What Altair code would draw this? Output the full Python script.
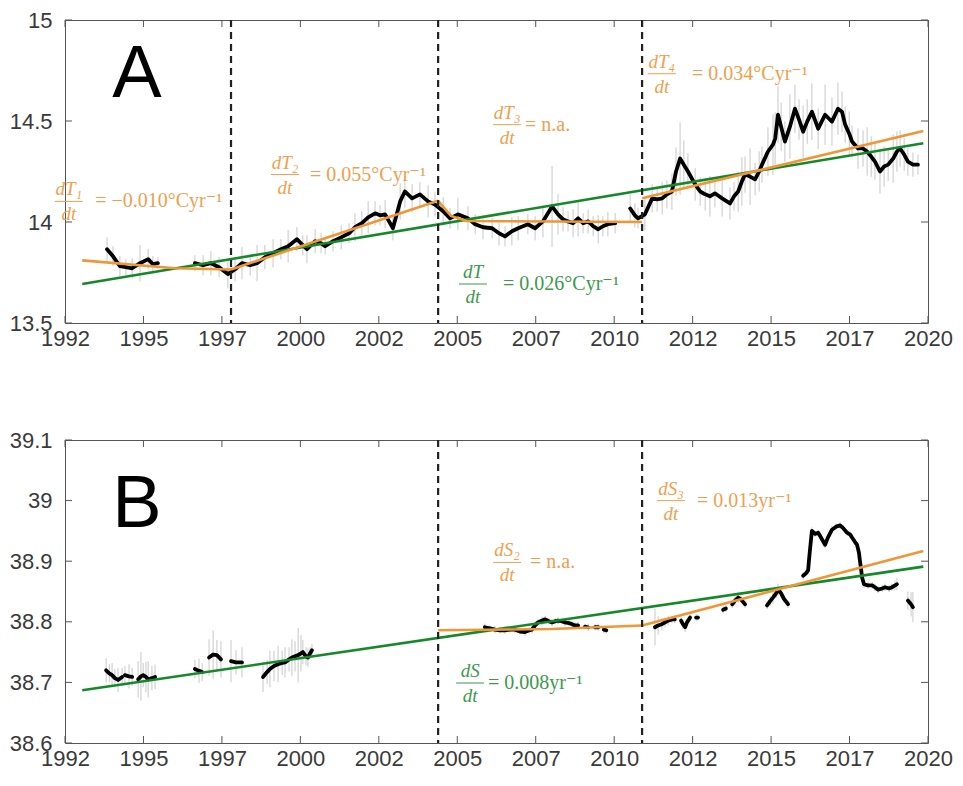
import altair as alt
import pandas as pd

# ---------------- axes ----------------
X_DOMAIN = [1992.5, 2020.0]
X_TICKS = [1992.5, 1995.0, 1997.5, 2000.0, 2002.5, 2005.0, 2007.5, 2010.0, 2012.5, 2015.0, 2017.5, 2020.0]
T_DOMAIN = [13.5, 15.0]
T_TICKS = [13.5, 14.0, 14.5, 15.0]
S_DOMAIN = [38.6, 39.1]
S_TICKS = [38.6, 38.7, 38.8, 38.9, 39.0, 39.1]
BREAKS_T = [1997.79, 2004.39, 2010.89]
BREAKS_S = [2004.39, 2010.89]

# ---------------- temperature (year, value, error half-width) ----------------
temp_seg1 = [
    (1993.84, 13.865, 0.06), (1994.03, 13.830, 0.05), (1994.25, 13.781, 0.05), (1994.44, 13.776, 0.04),
    (1994.64, 13.771, 0.05), (1994.89, 13.796, 0.09), (1995.15, 13.816, 0.05), (1995.30, 13.791, 0.04),
    (1995.46, 13.796, 0.03),
]
temp_seg2 = [
    (1996.64, 13.796, 0.04), (1996.90, 13.786, 0.05), (1997.15, 13.796, 0.06), (1997.41, 13.776, 0.05),
    (1997.69, 13.742, 0.07), (1997.92, 13.766, 0.06), (1998.14, 13.796, 0.08), (1998.40, 13.786, 0.05),
    (1998.62, 13.796, 0.09), (1998.87, 13.826, 0.06), (1999.13, 13.845, 0.07), (1999.38, 13.865, 0.05),
    (1999.61, 13.880, 0.08), (1999.89, 13.915, 0.06), (2000.08, 13.885, 0.05), (2000.21, 13.865, 0.07),
    (2000.47, 13.905, 0.06), (2000.66, 13.895, 0.05), (2000.79, 13.880, 0.04), (2001.04, 13.905, 0.05),
    (2001.30, 13.924, 0.06), (2001.55, 13.944, 0.05), (2001.74, 13.974, 0.07), (2001.96, 13.994, 0.06),
    (2002.16, 14.023, 0.08), (2002.38, 14.043, 0.06), (2002.54, 14.033, 0.05), (2002.70, 14.038, 0.07),
    (2002.95, 13.969, 0.06), (2003.18, 14.102, 0.09), (2003.33, 14.151, 0.08), (2003.56, 14.117, 0.07),
    (2003.81, 14.137, 0.06), (2004.07, 14.102, 0.08), (2004.29, 14.087, 0.06), (2004.55, 14.053, 0.07),
    (2004.77, 14.018, 0.05), (2005.02, 14.038, 0.08), (2005.34, 14.018, 0.06), (2005.57, 13.989, 0.05),
    (2005.82, 13.974, 0.06), (2006.11, 13.969, 0.05), (2006.33, 13.944, 0.06), (2006.52, 13.929, 0.05),
    (2006.74, 13.954, 0.07), (2006.94, 13.969, 0.06), (2007.25, 13.989, 0.05), (2007.48, 13.969, 0.06),
    (2007.73, 14.003, 0.08), (2008.02, 14.077, 0.20), (2008.21, 14.038, 0.10), (2008.37, 14.013, 0.06),
    (2008.53, 14.003, 0.05), (2008.69, 13.994, 0.07), (2008.85, 14.018, 0.09), (2009.01, 13.994, 0.05),
    (2009.17, 14.003, 0.06), (2009.33, 13.979, 0.05), (2009.49, 13.964, 0.07), (2009.64, 13.979, 0.05),
    (2009.80, 13.989, 0.06), (2010.03, 13.994, 0.05),
]
temp_seg3 = [
    (2010.51, 14.067, 0.07), (2010.66, 14.033, 0.06), (2010.76, 14.018, 0.05), (2010.98, 14.038, 0.08),
    (2011.21, 14.117, 0.07), (2011.37, 14.112, 0.06), (2011.53, 14.117, 0.08), (2011.68, 14.137, 0.07),
    (2011.84, 14.151, 0.09), (2011.97, 14.250, 0.12), (2012.10, 14.314, 0.18), (2012.22, 14.284, 0.12),
    (2012.35, 14.250, 0.09), (2012.58, 14.186, 0.08), (2012.74, 14.151, 0.07), (2012.90, 14.137, 0.08),
    (2013.05, 14.127, 0.10), (2013.21, 14.142, 0.07), (2013.44, 14.117, 0.09), (2013.69, 14.092, 0.08),
    (2013.82, 14.127, 0.07), (2013.95, 14.151, 0.10), (2014.07, 14.201, 0.12), (2014.17, 14.235, 0.09),
    (2014.33, 14.225, 0.14), (2014.49, 14.211, 0.08), (2014.62, 14.250, 0.10), (2014.71, 14.284, 0.09),
    (2014.90, 14.349, 0.12), (2015.06, 14.383, 0.15), (2015.13, 14.413, 0.13), (2015.22, 14.531, 0.14),
    (2015.32, 14.472, 0.12), (2015.44, 14.398, 0.10), (2015.60, 14.472, 0.16), (2015.76, 14.561, 0.12),
    (2015.89, 14.507, 0.10), (2016.02, 14.447, 0.13), (2016.15, 14.497, 0.11), (2016.30, 14.546, 0.14),
    (2016.50, 14.462, 0.10), (2016.72, 14.531, 0.15), (2016.94, 14.497, 0.12), (2017.13, 14.561, 0.13),
    (2017.26, 14.546, 0.10), (2017.36, 14.482, 0.09), (2017.49, 14.437, 0.11), (2017.58, 14.398, 0.08),
    (2017.77, 14.364, 0.10), (2017.93, 14.364, 0.09), (2018.06, 14.349, 0.12), (2018.19, 14.324, 0.10),
    (2018.31, 14.299, 0.09), (2018.47, 14.250, 0.11), (2018.60, 14.275, 0.10), (2018.73, 14.284, 0.08),
    (2018.89, 14.314, 0.12), (2019.01, 14.349, 0.10), (2019.11, 14.364, 0.09), (2019.24, 14.334, 0.08),
    (2019.36, 14.299, 0.07), (2019.52, 14.284, 0.06), (2019.68, 14.284, 0.05),
]

# ---------------- salinity (year, value, error half-width) ----------------
sal_seg1 = [
    (1993.81, 38.720, 0.020), (1993.91, 38.715, 0.015), (1994.00, 38.712, 0.020), (1994.09, 38.707, 0.015),
    (1994.19, 38.704, 0.020), (1994.32, 38.709, 0.015),
]
sal_seg2 = [(1994.41, 38.712, 0.015), (1994.54, 38.710, 0.020), (1994.64, 38.709, 0.015)]
sal_seg3 = [
    (1994.83, 38.705, 0.030), (1994.92, 38.710, 0.040), (1994.99, 38.712, 0.020), (1995.08, 38.709, 0.025),
    (1995.15, 38.705, 0.030), (1995.27, 38.707, 0.020), (1995.37, 38.709, 0.020),
]
sal_seg4 = [(1996.64, 38.722, 0.015), (1996.77, 38.719, 0.020), (1996.87, 38.717, 0.015)]
sal_seg5 = [(1997.09, 38.741, 0.030), (1997.22, 38.746, 0.040), (1997.34, 38.745, 0.025), (1997.47, 38.738, 0.030)]
sal_seg6 = [(1997.79, 38.735, 0.035), (1997.95, 38.733, 0.020), (1998.14, 38.733, 0.025)]
sal_seg7 = [
    (1998.81, 38.709, 0.025), (1998.94, 38.717, 0.020), (1999.03, 38.722, 0.030), (1999.16, 38.727, 0.025),
    (1999.29, 38.730, 0.030), (1999.42, 38.732, 0.020), (1999.51, 38.733, 0.025), (1999.64, 38.738, 0.020),
    (1999.73, 38.741, 0.030), (1999.83, 38.743, 0.025), (1999.93, 38.745, 0.045), (2000.02, 38.748, 0.030),
    (2000.08, 38.750, 0.020), (2000.18, 38.743, 0.015), (2000.24, 38.741, 0.015), (2000.31, 38.748, 0.010),
    (2000.37, 38.753, 0.010),
]
sal_seg8 = [
    (2005.88, 38.791, 0.006), (2006.04, 38.789, 0.005), (2006.20, 38.787, 0.006), (2006.36, 38.786, 0.005),
    (2006.52, 38.786, 0.006), (2006.68, 38.787, 0.005), (2006.84, 38.787, 0.006), (2007.00, 38.784, 0.005),
    (2007.16, 38.783, 0.006), (2007.29, 38.786, 0.005), (2007.38, 38.787, 0.006), (2007.48, 38.794, 0.007),
    (2007.57, 38.799, 0.006), (2007.70, 38.802, 0.007), (2007.80, 38.804, 0.006), (2007.92, 38.801, 0.005),
    (2008.02, 38.799, 0.006), (2008.12, 38.801, 0.005), (2008.21, 38.802, 0.006), (2008.34, 38.801, 0.005),
    (2008.43, 38.799, 0.006), (2008.56, 38.798, 0.005), (2008.66, 38.796, 0.006), (2008.75, 38.794, 0.005),
    (2008.85, 38.794, 0.006),
]
sal_seg9 = [(2009.07, 38.792, 0.005), (2009.17, 38.791, 0.006)]
sal_seg10 = [(2009.39, 38.791, 0.005), (2009.49, 38.791, 0.006)]
sal_seg11 = [(2009.67, 38.787, 0.006), (2009.75, 38.786, 0.005)]
sal_seg12 = [
    (2011.30, 38.791, 0.030), (2011.40, 38.794, 0.015), (2011.52, 38.796, 0.010), (2011.62, 38.799, 0.008),
    (2011.72, 38.802, 0.008), (2011.84, 38.804, 0.006), (2011.93, 38.804, 0.006),
]
sal_seg13 = [(2012.13, 38.802, 0.006), (2012.19, 38.796, 0.008), (2012.26, 38.791, 0.008), (2012.32, 38.799, 0.006), (2012.42, 38.807, 0.006)]
sal_seg14 = [(2012.61, 38.807, 0.006), (2012.67, 38.807, 0.005)]
sal_seg15 = [(2013.47, 38.820, 0.006), (2013.56, 38.822, 0.006)]
sal_seg16 = [(2013.76, 38.829, 0.006), (2013.85, 38.835, 0.007), (2013.95, 38.840, 0.008), (2014.04, 38.837, 0.006), (2014.17, 38.829, 0.006)]
sal_seg17 = [
    (2014.87, 38.827, 0.006), (2014.97, 38.834, 0.008), (2015.06, 38.840, 0.010), (2015.16, 38.847, 0.008),
    (2015.22, 38.853, 0.010), (2015.32, 38.847, 0.008), (2015.41, 38.838, 0.006), (2015.54, 38.829, 0.006),
]
sal_seg18 = [
    (2016.02, 38.876, 0.006), (2016.11, 38.880, 0.005), (2016.18, 38.885, 0.005), (2016.21, 38.903, 0.005),
    (2016.24, 38.919, 0.005), (2016.30, 38.950, 0.006), (2016.40, 38.945, 0.005), (2016.50, 38.947, 0.005),
    (2016.59, 38.939, 0.005), (2016.72, 38.927, 0.005), (2016.81, 38.939, 0.005), (2016.94, 38.952, 0.006),
    (2017.07, 38.957, 0.005), (2017.20, 38.959, 0.005), (2017.29, 38.955, 0.005), (2017.42, 38.947, 0.005),
    (2017.52, 38.944, 0.005), (2017.58, 38.939, 0.005), (2017.67, 38.932, 0.005), (2017.74, 38.927, 0.005),
    (2017.80, 38.914, 0.005), (2017.83, 38.901, 0.005), (2017.87, 38.886, 0.005), (2017.90, 38.873, 0.005),
    (2017.96, 38.862, 0.006), (2018.09, 38.860, 0.006), (2018.22, 38.860, 0.006), (2018.31, 38.857, 0.006),
    (2018.41, 38.853, 0.006), (2018.54, 38.855, 0.006), (2018.63, 38.857, 0.006), (2018.76, 38.855, 0.006),
    (2018.85, 38.857, 0.006), (2018.95, 38.860, 0.008), (2019.01, 38.862, 0.010),
]
sal_seg19 = [(2019.36, 38.835, 0.015), (2019.46, 38.829, 0.020), (2019.52, 38.824, 0.025)]

# ---------------- fits ----------------
orange_T = [
    [(1993.05, 13.810), (1996.00, 13.771), (1997.79, 13.765)],
    [(1997.79, 13.765), (2004.39, 14.105)],
    [(2004.39, 14.105), (2004.80, 14.030), (2005.30, 14.005), (2010.89, 14.000)],
    [(2010.89, 14.118), (2019.85, 14.450)],
]
green_T = [(1993.05, 13.693), (2019.85, 14.390)]
orange_S = [
    [(2004.39, 38.786), (2008.00, 38.788), (2010.89, 38.794)],
    [(2010.89, 38.794), (2019.85, 38.917)],
]
green_S = [(1993.05, 38.687), (2019.85, 38.891)]

# ---------------- annotations: (x, y, numerator, x_rest, rest, kind) ----------------
ann_T = [
    (1992.62, 14.102, "dT₁", 1993.46, "= −0.010°Cyr⁻¹", "fit"),
    (1999.51, 14.235, "dT₂", 2000.31, "= 0.055°Cyr⁻¹", "fit"),
    (2006.59, 14.482, "dT₃", 2007.16, "= n.a.", "fit"),
    (2011.52, 14.734, "dT₄", 2012.48, "= 0.034°Cyr⁻¹", "fit"),
    (2005.50, 13.693, "dT", 2006.46, "= 0.026°Cyr⁻¹", "all"),
]
ann_S = [
    (2006.59, 38.898, "dS₂", 2007.32, "= n.a.", "fit"),
    (2011.81, 39.000, "dS₃", 2012.64, "= 0.013yr⁻¹", "fit"),
    (2005.41, 38.699, "dS", 2005.98, "= 0.008yr⁻¹", "all"),
]
letter_T = [(1994.79, 14.73, "A")]
letter_S = [(1994.79, 38.993, "B")]

W, H = 863, 303
ORANGE = "#EF9637"
ORANGE_TXT = "#EFA04E"
GREEN = "#16882A"
GREEN_TXT = "#3B9A4C"
AXIS_GRAY = "#555555"
SERIF = "Liberation Serif, DejaVu Serif, serif"


def data_frame(segments):
    rows = []
    for i, seg in enumerate(segments):
        for yr, v, e in seg:
            rows.append({"year": yr, "val": v, "lo": v - e, "hi": v + e, "seg": i})
    return pd.DataFrame(rows)


def fit_frame(segments):
    rows = []
    for i, seg in enumerate(segments):
        for yr, v in seg:
            rows.append({"year": yr, "val": v, "seg": i})
    return pd.DataFrame(rows)


def panel(segments, orange, green, breaks, ydomain, yticks, ann, letter):
    xs = alt.Scale(domain=X_DOMAIN, nice=False, zero=False)
    ys = alt.Scale(domain=ydomain, nice=False, zero=False)
    xaxis = alt.Axis(values=X_TICKS, labelExpr="floor(datum.value)", ticks=False, tickSize=0,
                     domain=False, grid=False, labelPadding=5, title=None, labelFlush=False,
                     labelOverlap=False)
    yaxis = alt.Axis(values=yticks, labelExpr="'' + datum.value", ticks=False, tickSize=0,
                     domain=False, grid=False, labelPadding=13, title=None, labelOverlap=False)
    X = lambda f: alt.X(f, type="quantitative", scale=xs, axis=xaxis, title=None)
    Y = lambda f: alt.Y(f, type="quantitative", scale=ys, axis=yaxis, title=None)

    black = data_frame(segments)
    err = alt.Chart(black).mark_rule(color="#c8c8c8", strokeWidth=1).encode(
        x=X("year"), y=Y("lo"), y2="hi:Q",
    )
    line = alt.Chart(black).mark_line(color="black", strokeWidth=3.8, strokeJoin="round",
                                      strokeCap="round").encode(x=X("year"), y=Y("val"), detail="seg:N")
    gdf = fit_frame([green])
    gline = alt.Chart(gdf).mark_line(color=GREEN, strokeWidth=2.6).encode(x=X("year"), y=Y("val"))
    odf = fit_frame(orange)
    oline = alt.Chart(odf).mark_line(color=ORANGE, strokeWidth=2.6).encode(
        x=X("year"), y=Y("val"), detail="seg:N")
    dashed = alt.Chart(pd.DataFrame({"year": breaks})).mark_rule(
        color="#222222", strokeWidth=2.2, strokeDash=[7, 5]).encode(x=X("year"))

    # inward MATLAB-style ticks
    xt = pd.DataFrame({"year": X_TICKS})
    yt = pd.DataFrame({"val": yticks})
    tick_style = dict(color=AXIS_GRAY, strokeWidth=1)
    t_top = alt.Chart(xt).mark_rule(**tick_style).encode(x=X("year"), y=alt.value(0), y2=alt.value(7))
    t_bot = alt.Chart(xt).mark_rule(**tick_style).encode(x=X("year"), y=alt.value(H), y2=alt.value(H - 7))
    t_left = alt.Chart(yt).mark_rule(**tick_style).encode(y=Y("val"), x=alt.value(0), x2=alt.value(7))
    t_right = alt.Chart(yt).mark_rule(**tick_style).encode(y=Y("val"), x=alt.value(W), x2=alt.value(W - 7))

    adf = pd.DataFrame(ann, columns=["cx", "cy", "num", "rx", "rest", "kind"])
    adf["den"] = "dt"
    col = alt.Color("kind:N", scale=alt.Scale(domain=["fit", "all"], range=[ORANGE_TXT, GREEN_TXT]), legend=None)
    num = alt.Chart(adf).mark_text(font=SERIF, fontStyle="italic", fontSize=19, dy=-12,
                                   align="center", baseline="middle").encode(
        x=X("cx"), y=Y("cy"), text="num:N", color=col)
    den = alt.Chart(adf).mark_text(font=SERIF, fontStyle="italic", fontSize=19, dy=13,
                                   align="center", baseline="middle").encode(
        x=X("cx"), y=Y("cy"), text="den:N", color=col)
    bar = alt.Chart(adf).mark_rule(strokeWidth=1, xOffset=-14, x2Offset=14).encode(
        x=X("cx"), x2="cx:Q", y=Y("cy"), color=col)
    rest = alt.Chart(adf).mark_text(font=SERIF, fontSize=20, align="left", baseline="middle").encode(
        x=X("rx"), y=Y("cy"), text="rest:N", color=col)

    ldf = pd.DataFrame(letter, columns=["x", "y", "t"])
    let = alt.Chart(ldf).mark_text(font="Liberation Sans", fontSize=74, color="black",
                                   align="center", baseline="middle").encode(
        x=X("x"), y=Y("y"), text="t:N")

    return alt.layer(err, line, gline, oline, dashed, t_top, t_bot, t_left, t_right,
                     num, den, bar, rest, let).properties(width=W, height=H)


pA = panel([temp_seg1, temp_seg2, temp_seg3], orange_T, green_T, BREAKS_T, T_DOMAIN, T_TICKS, ann_T, letter_T)
pB = panel([sal_seg1, sal_seg2, sal_seg3, sal_seg4, sal_seg5, sal_seg6, sal_seg7, sal_seg8, sal_seg9,
            sal_seg10, sal_seg11, sal_seg12, sal_seg13, sal_seg14, sal_seg15, sal_seg16, sal_seg17,
            sal_seg18, sal_seg19], orange_S, green_S, BREAKS_S, S_DOMAIN, S_TICKS, ann_S, letter_S)

chart = alt.vconcat(pA, pB, spacing=78).properties(
    padding={"left": 0, "top": 0, "right": 0, "bottom": 0}
).configure_view(stroke=AXIS_GRAY, strokeWidth=1).configure_axis(
    labelFont="Liberation Sans", labelFontSize=22, labelColor="#3a3a3a"
)

chart.save("out.html", embed_options={"renderer": "svg", "actions": False})
